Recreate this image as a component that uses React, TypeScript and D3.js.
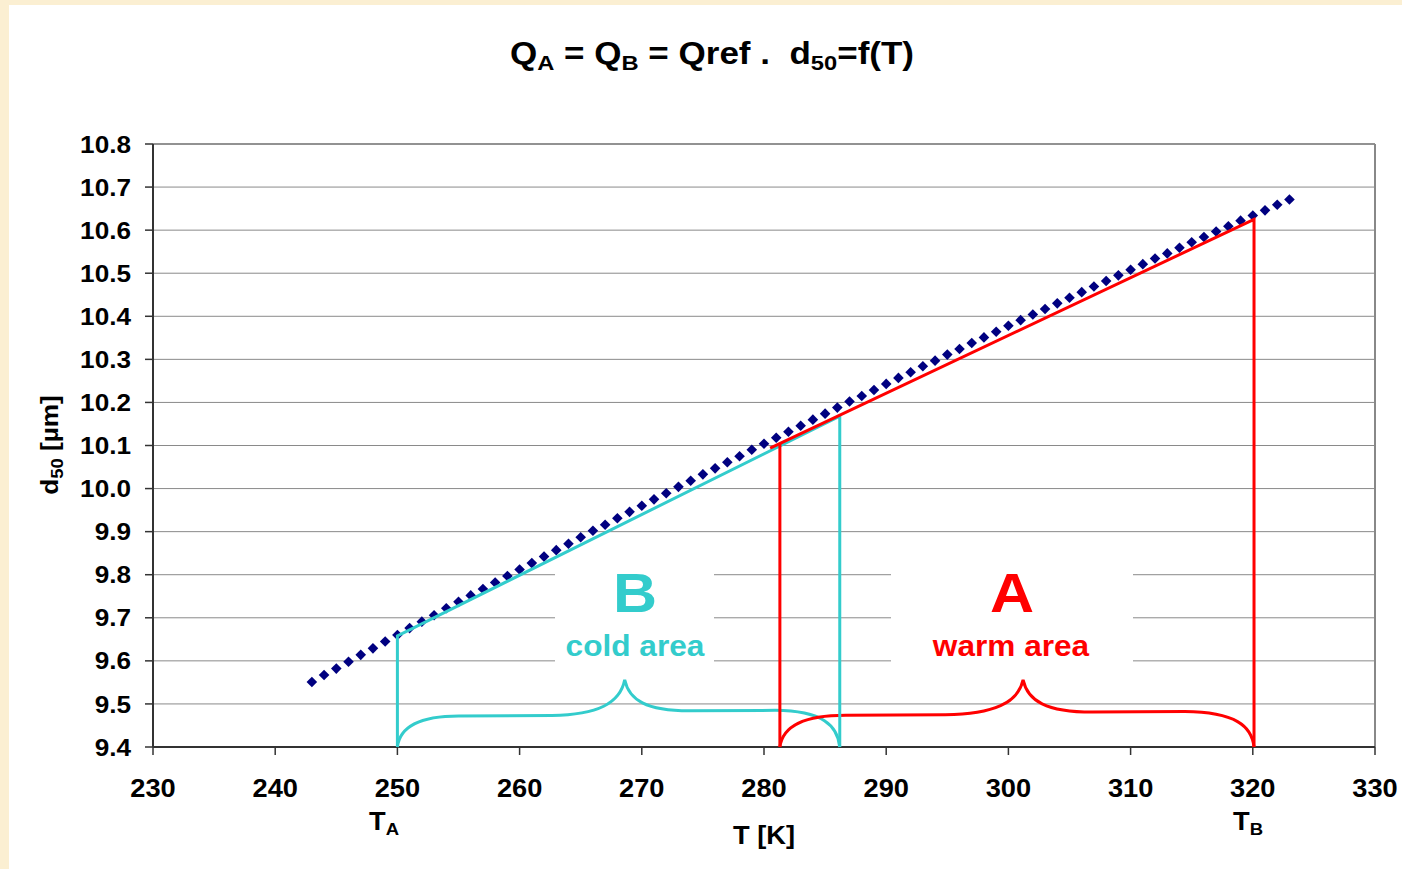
import React from "react";
import * as d3 from "d3";

// ---- data ----
const xTicks = [230, 240, 250, 260, 270, 280, 290, 300, 310, 320, 330];
const yTicks = [9.4, 9.5, 9.6, 9.7, 9.8, 9.9, 10.0, 10.1, 10.2, 10.3, 10.4, 10.5, 10.6, 10.7, 10.8];
const yTickLabels = ["9.4", "9.5", "9.6", "9.7", "9.8", "9.9", "10.0", "10.1", "10.2", "10.3", "10.4", "10.5", "10.6", "10.7", "10.8"];

// d50 = f(T), dotted series (T from 243 to 323 K, 1 K step)
const seriesT = [
  243, 244, 245, 246, 247, 248, 249, 250, 251, 252, 253, 254, 255, 256, 257, 258, 259, 260, 261, 262,
  263, 264, 265, 266, 267, 268, 269, 270, 271, 272, 273, 274, 275, 276, 277, 278, 279, 280, 281, 282,
  283, 284, 285, 286, 287, 288, 289, 290, 291, 292, 293, 294, 295, 296, 297, 298, 299, 300, 301, 302,
  303, 304, 305, 306, 307, 308, 309, 310, 311, 312, 313, 314, 315, 316, 317, 318, 319, 320, 321, 322, 323,
];
const seriesD50 = [
  9.551, 9.567, 9.582, 9.598, 9.614, 9.629, 9.645, 9.660, 9.676, 9.691, 9.706, 9.722, 9.737, 9.752, 9.767, 9.782, 9.797, 9.812, 9.827, 9.842,
  9.857, 9.872, 9.887, 9.902, 9.916, 9.931, 9.946, 9.960, 9.975, 9.989, 10.004, 10.018, 10.033, 10.047, 10.061, 10.075, 10.090, 10.104, 10.118, 10.132,
  10.146, 10.160, 10.174, 10.188, 10.202, 10.215, 10.229, 10.243, 10.257, 10.270, 10.284, 10.297, 10.311, 10.324, 10.338, 10.351, 10.364, 10.378, 10.391, 10.404,
  10.417, 10.430, 10.443, 10.456, 10.469, 10.482, 10.495, 10.508, 10.521, 10.534, 10.546, 10.559, 10.572, 10.584, 10.597, 10.609, 10.622, 10.634, 10.646, 10.659, 10.671,
];

// cold area B (cyan) outline
const coldT = [250.0, 250.0, 286.2, 286.2];
const coldD = [9.4, 9.658, 10.168, 9.4];
// warm area A (red) outline
const warmSlopeT = [280.5, 320.1, 320.1];
const warmSlopeD = [10.094, 10.625, 9.4];
const warmLeftT = [281.3, 281.3];
const warmLeftD = [10.105, 9.4];

// braces: [start T, end T, tip T, left flat d50, right flat d50, tip d50]
const coldBrace = [250.0, 286.2, 268.6, 9.472, 9.484, 9.556];
const warmBrace = [281.3, 320.1, 301.2, 9.474, 9.481, 9.556];

const CYAN = "#33CCCC";
const RED = "#FF0000";
const NAVY = "#000080";
const FONT = "'Liberation Sans', Arial, sans-serif";
const SX = 1.09; // horizontal stretch of the original's lettering

function SText(props: { x: number; y: number; sx?: number; rotate?: number; children?: React.ReactNode; [k: string]: any }) {
  const { x, y, sx = SX, rotate = 0, children, ...rest } = props;
  return (
    <g transform={`translate(${x},${y}) rotate(${rotate}) scale(${sx},1)`}>
      <text x={0} y={0} {...rest}>
        {children}
      </text>
    </g>
  );
}

export default function App() {
  const W = 1402, H = 869;
  const x = d3.scaleLinear().domain([230, 330]).range([153, 1375]);
  const y = d3.scaleLinear().domain([9.4, 10.8]).range([747, 144]);
  const line = d3.line<[number, number]>().x((d) => x(d[0])).y((d) => y(d[1]));

  const brace = (b: number[]) => {
    const [s, e, t, fl, fr, tv] = b;
    const x0 = x(s), x1 = x(e), xt = x(t);
    const yb = y(9.4), yl = y(fl), yr = y(fr), yt = y(tv);
    const L = xt - x0, R = x1 - xt;
    const p = d3.path();
    p.moveTo(x0, yb);
    p.bezierCurveTo(x0 + 0.01 * L, yb - 0.6 * (yb - yl), x0 + 0.08 * L, yl, x0 + 0.27 * L, yl);
    p.lineTo(x0 + 0.68 * L, yl - 0.5);
    p.bezierCurveTo(xt - 0.12 * L, yl - 1, xt - 0.02 * L, yl - 0.35 * (yl - yt), xt, yt);
    p.bezierCurveTo(xt + 0.02 * R, yr - 0.35 * (yr - yt), xt + 0.1 * R, yr, xt + 0.3 * R, yr);
    p.lineTo(x1 - 0.3 * R, yr - 0.5);
    p.bezierCurveTo(x1 - 0.08 * R, yr, x1 - 0.01 * R, yb - 0.6 * (yb - yr), x1, yb);
    return p.toString();
  };

  const pts = seriesT.map((t, i) => [t, seriesD50[i]] as [number, number]);
  const dm = 5.3;

  return (
    <svg width={W} height={H} style={{ position: "absolute", left: 0, top: 0 }} fontFamily={FONT}>
      <rect x={0} y={0} width={W} height={H} fill="#FBEFD2" />
      <rect x={9} y={5} width={W - 9} height={H - 5} fill="#FFFFFF" />

      {/* gridlines */}
      {yTicks.slice(1, -1).map((v) => (
        <line key={v} x1={x(230)} x2={x(330)} y1={y(v)} y2={y(v)} stroke="#8a8a8a" strokeWidth={1} />
      ))}
      {/* plot border */}
      <line x1={x(230)} x2={x(330)} y1={y(10.8)} y2={y(10.8)} stroke="#6e6e6e" strokeWidth={1.5} />
      <line x1={x(330)} x2={x(330)} y1={y(10.8)} y2={y(9.4)} stroke="#888888" strokeWidth={2} />

      {/* text boxes masking gridlines */}
      <rect x={555} y={560} width={159} height={110} fill="#FFFFFF" />
      <rect x={891} y={560} width={242} height={110} fill="#FFFFFF" />

      {/* axes */}
      <line x1={x(230)} x2={x(230)} y1={y(10.8)} y2={y(9.4)} stroke="#333" strokeWidth={2} />
      <line x1={x(230)} x2={x(330)} y1={y(9.4)} y2={y(9.4)} stroke="#333" strokeWidth={2} />
      {yTicks.map((v, i) => (
        <g key={v}>
          <line x1={x(230) - 8} x2={x(230)} y1={y(v)} y2={y(v)} stroke="#333" strokeWidth={1.5} />
          <SText x={131} y={y(v) + 8.6} textAnchor="end" fontSize={24} fontWeight="bold" fill="#000">
            {yTickLabels[i]}
          </SText>
        </g>
      ))}
      {xTicks.map((v) => (
        <g key={v}>
          <line x1={x(v)} x2={x(v)} y1={y(9.4)} y2={y(9.4) + 8} stroke="#333" strokeWidth={1.5} />
          <SText x={x(v)} y={797} textAnchor="middle" fontSize={25} fontWeight="bold" fill="#000">
            {v}
          </SText>
        </g>
      ))}

      {/* dotted series */}
      {pts.map((d, i) => (
        <path
          key={i}
          d={`M${x(d[0])},${y(d[1]) - dm}L${x(d[0]) + dm},${y(d[1])}L${x(d[0])},${y(d[1]) + dm}L${x(d[0]) - dm},${y(d[1])}Z`}
          fill={NAVY}
        />
      ))}

      {/* braces */}
      <path d={brace(coldBrace)} fill="none" stroke={CYAN} strokeWidth={3} />
      <path d={brace(warmBrace)} fill="none" stroke={RED} strokeWidth={3} />

      {/* area outlines */}
      <path d={line(coldT.map((t, i) => [t, coldD[i]] as [number, number])) || ""} fill="none" stroke={CYAN} strokeWidth={3} />
      <path d={line(warmSlopeT.map((t, i) => [t, warmSlopeD[i]] as [number, number])) || ""} fill="none" stroke={RED} strokeWidth={3} />
      <path d={line(warmLeftT.map((t, i) => [t, warmLeftD[i]] as [number, number])) || ""} fill="none" stroke={RED} strokeWidth={3} />

      {/* area labels */}
      <SText x={635} y={612} textAnchor="middle" fontSize={56} fontWeight="bold" fill={CYAN}>B</SText>
      <SText x={635} y={656} textAnchor="middle" fontSize={29} fontWeight="bold" fill={CYAN}>cold area</SText>
      <SText x={1012} y={612} textAnchor="middle" fontSize={56} fontWeight="bold" fill={RED}>A</SText>
      <SText x={1011} y={656} textAnchor="middle" fontSize={29} fontWeight="bold" fill={RED}>warm area</SText>

      {/* title */}
      <SText x={712} y={64} sx={1.13} textAnchor="middle" fontSize={31} fontWeight="bold" fill="#000">
        <tspan>Q</tspan>
        <tspan fontSize={21} dy={6}>A</tspan>
        <tspan dy={-6}> = Q</tspan>
        <tspan fontSize={21} dy={6}>B</tspan>
        <tspan dy={-6}>{" = Qref .\u00a0\u00a0d"}</tspan>
        <tspan fontSize={21} dy={6}>50</tspan>
        <tspan dy={-6}>=f(T)</tspan>
      </SText>

      {/* axis titles */}
      <SText x={58} y={445} rotate={-90} textAnchor="middle" fontSize={24} fontWeight="bold" fill="#000">
        <tspan>d</tspan>
        <tspan fontSize={17} dy={5}>50</tspan>
        <tspan dy={-5}> [µm]</tspan>
      </SText>
      <SText x={764} y={844} textAnchor="middle" fontSize={25} fontWeight="bold" fill="#000">T [K]</SText>
      <SText x={384} y={830} textAnchor="middle" fontSize={25} fontWeight="bold" fill="#000">
        <tspan>T</tspan>
        <tspan fontSize={17} dy={5}>A</tspan>
      </SText>
      <SText x={1248} y={830} textAnchor="middle" fontSize={25} fontWeight="bold" fill="#000">
        <tspan>T</tspan>
        <tspan fontSize={17} dy={5}>B</tspan>
      </SText>
    </svg>
  );
}
